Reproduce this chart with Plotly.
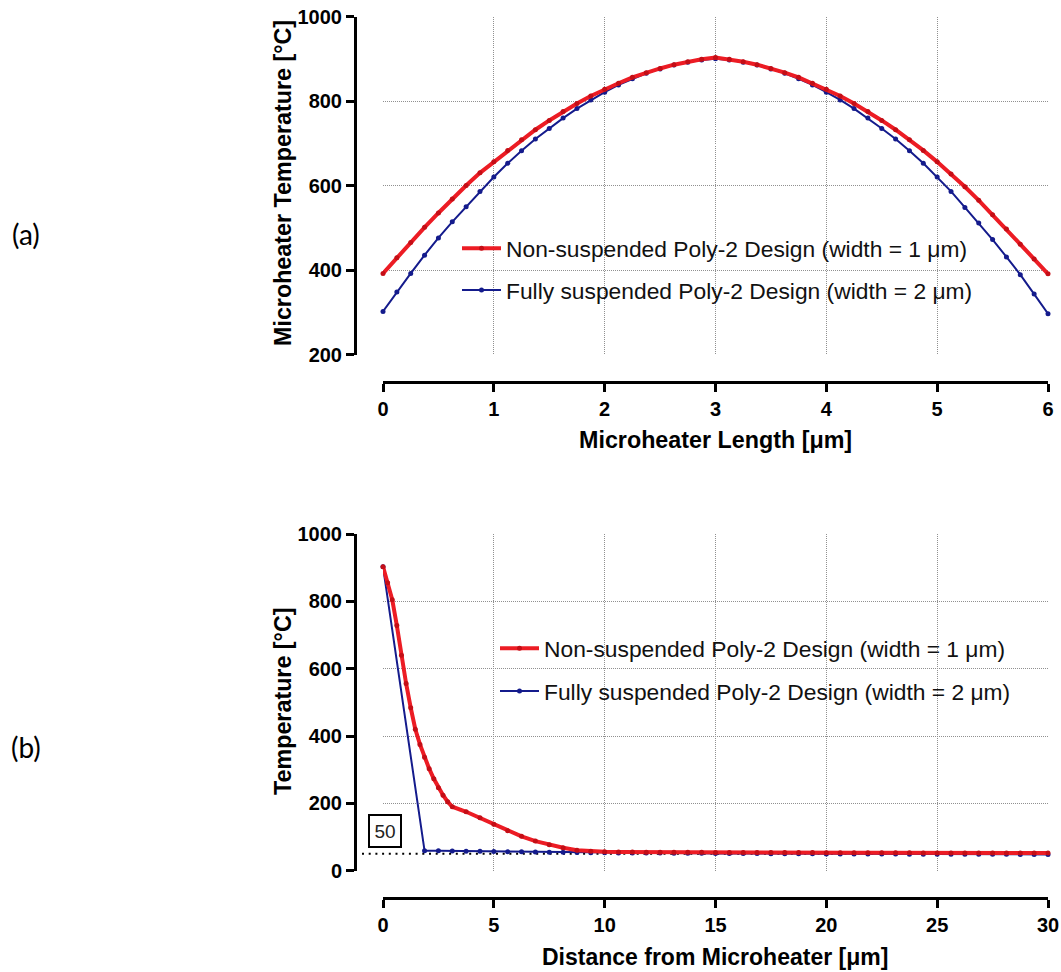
import plotly.graph_objects as go

W, H = 1061, 972

# ---------------- data: (a) temperature along microheater ----------------
len_x = [0, 0.125, 0.25, 0.375, 0.5, 0.625, 0.75, 0.875, 1.0, 1.125, 1.25, 1.375,
         1.5, 1.625, 1.75, 1.875, 2.0, 2.125, 2.25, 2.375, 2.5, 2.625, 2.75, 2.875,
         3.0, 3.125, 3.25, 3.375, 3.5, 3.625, 3.75, 3.875, 4.0, 4.125, 4.25, 4.375,
         4.5, 4.625, 4.75, 4.875, 5.0, 5.125, 5.25, 5.375, 5.5, 5.625, 5.75, 5.875, 6.0]
len_nonsusp = [392, 429, 465, 501, 535, 568, 600, 630, 656, 683, 708, 732,
               754, 775, 794, 812, 828, 842, 856, 867, 877, 886, 893, 899,
               903, 899, 893, 886, 877, 867, 856, 842, 828, 812, 794, 775,
               754, 732, 708, 683, 656, 627, 597, 565, 531, 497, 461, 426, 391]
len_fullsusp = [302, 348, 392, 435, 476, 514, 550, 586, 620, 652.5, 682.5, 710,
                735, 759.5, 782, 802.5, 821, 838, 852.5, 865.5, 876, 885, 892, 897,
                900, 897, 892, 885, 876, 865.5, 852.5, 838, 821, 802.5, 782, 759.5,
                735, 710, 682.5, 652.5, 620, 586, 548, 511, 472, 431, 389, 343, 296.5]

# ---------------- data: (b) temperature vs distance ----------------
dist_x_nonsusp = [0, 0.208, 0.417, 0.625, 0.833, 1.042, 1.25, 1.458, 1.667, 1.875,
                  2.083, 2.292, 2.5, 2.708, 2.917, 3.125,
                  3.75, 4.375, 5.0, 5.625, 6.25, 6.875, 7.5, 8.125, 8.75, 9.375, 10.0,
                  10.625, 11.25, 11.875, 12.5, 13.125, 13.75, 14.375, 15.0, 15.625, 16.25,
                  16.875, 17.5, 18.125, 18.75, 19.375, 20.0, 20.625, 21.25, 21.875, 22.5,
                  23.125, 23.75, 24.375, 25.0, 25.625, 26.25, 26.875, 27.5, 28.125, 28.75,
                  29.375, 30.0]
dist_nonsusp = [903, 855, 805, 728, 640, 556, 484, 420, 375, 337,
                303, 273, 246, 224, 205, 190,
                175, 157, 138, 119, 102, 88, 77, 68, 61, 58, 56,
                55.5, 55.2, 55.0, 54.8, 54.7, 54.6, 54.5, 54.4, 54.3, 54.2,
                54.1, 54.0, 53.9, 53.8, 53.7, 53.6, 53.5, 53.4, 53.3, 53.2,
                53.1, 53.0, 52.9, 52.8, 52.8, 52.7, 52.7, 52.6, 52.6, 52.5,
                52.5, 52.5]
dist_x_fullsusp = [0, 1.875, 2.5, 3.125,
                   3.75, 4.375, 5.0, 5.625, 6.25, 6.875, 7.5, 8.125, 8.75, 9.375, 10.0,
                   10.625, 11.25, 11.875, 12.5, 13.125, 13.75, 14.375, 15.0, 15.625, 16.25,
                   16.875, 17.5, 18.125, 18.75, 19.375, 20.0, 20.625, 21.25, 21.875, 22.5,
                   23.125, 23.75, 24.375, 25.0, 25.625, 26.25, 26.875, 27.5, 28.125, 28.75,
                   29.375, 30.0]
dist_fullsusp = [903, 59, 59, 58.5,
                 58, 57.5, 57, 56.5, 56, 55.5, 55, 54.5, 54, 53.5, 53,
                 52.8, 52.6, 52.4, 52.2, 52.0, 51.8, 51.6, 51.4, 51.2, 51.0,
                 50.8, 50.6, 50.4, 50.2, 50.0, 49.8, 49.7, 49.6, 49.5, 49.4,
                 49.3, 49.2, 49.1, 49.0, 48.9, 48.8, 48.7, 48.6, 48.5, 48.4,
                 48.3, 48.2]

ambient_level = 50
ambient_label = "50"

name_nonsusp = "Non-suspended Poly-2 Design (width = 1 \u03bcm)"
name_fullsusp = "Fully suspended Poly-2 Design (width = 2 \u03bcm)"

RED = "#EC1C24"
RED_M = "#C40E16"
BLUE = "#141B8C"
FONT = "Liberation Sans, Arial, sans-serif"


def px_x(p):
    return p / W


def px_y(p):
    return 1 - p / H


fig = go.Figure()

# top panel (blue first so red sits on top)
fig.add_trace(go.Scatter(x=len_x, y=len_fullsusp, mode="lines+markers", name=name_fullsusp,
                         line=dict(color=BLUE, width=2), marker=dict(color=BLUE, size=5),
                         xaxis="x", yaxis="y", legend="legend", legendgroup="b", legendrank=2,
                         cliponaxis=False))
fig.add_trace(go.Scatter(x=len_x, y=len_nonsusp, mode="lines+markers", name=name_nonsusp,
                         line=dict(color=RED, width=4), marker=dict(color=RED_M, size=5),
                         xaxis="x", yaxis="y", legend="legend", legendgroup="a", legendrank=1,
                         cliponaxis=False))
# bottom panel
fig.add_trace(go.Scatter(x=dist_x_fullsusp, y=dist_fullsusp, mode="lines+markers", name=name_fullsusp,
                         line=dict(color=BLUE, width=2), marker=dict(color=BLUE, size=5),
                         xaxis="x2", yaxis="y2", legend="legend2", legendgroup="d", legendrank=2,
                         cliponaxis=False))
fig.add_trace(go.Scatter(x=dist_x_nonsusp, y=dist_nonsusp, mode="lines+markers", name=name_nonsusp,
                         line=dict(color=RED, width=4), marker=dict(color=RED_M, size=5),
                         xaxis="x2", yaxis="y2", legend="legend2", legendgroup="c", legendrank=1,
                         cliponaxis=False))

axis_common = dict(showline=True, linecolor="black", linewidth=3, ticks="outside",
                   ticklen=8, tickwidth=3, tickcolor="black",
                   tickfont=dict(family=FONT, size=20, color="black", weight="bold"),
                   showgrid=True, gridcolor="#909090", gridwidth=1, griddash="1px,1px",
                   zeroline=False, anchor="free", automargin=False)

xdom = [px_x(383), px_x(1048)]
legend_font = dict(family=FONT, size=22.8, color="#111")
fig.update_layout(
    width=W, height=H, autosize=False,
    margin=dict(l=0, r=0, t=0, b=0, pad=0, autoexpand=False),
    paper_bgcolor="white", plot_bgcolor="rgba(0,0,0,0)",
    xaxis=dict(axis_common, domain=xdom, range=[0, 6], dtick=1, position=px_y(382)),
    yaxis=dict(axis_common, domain=[px_y(354.5), px_y(16.5)], range=[200, 1000], dtick=200,
               position=px_x(355)),
    xaxis2=dict(axis_common, domain=xdom, range=[0, 30], dtick=5, position=px_y(898)),
    yaxis2=dict(axis_common, domain=[px_y(870.7), px_y(534)], range=[0, 1000], dtick=200,
                position=px_x(355)),
    legend=dict(x=px_x(457), y=px_y(227), xanchor="left", yanchor="top",
                bgcolor="rgba(0,0,0,0)", font=legend_font,
                itemwidth=39, tracegroupgap=9),
    legend2=dict(x=px_x(495), y=px_y(627), xanchor="left", yanchor="top",
                 bgcolor="rgba(0,0,0,0)", font=legend_font,
                 itemwidth=39, tracegroupgap=10),
    showlegend=True,
)

# ambient dotted line at 50 °C
fig.add_shape(type="line", xref="paper", yref="y2", x0=px_x(362), x1=px_x(1048),
              y0=ambient_level, y1=ambient_level, layer="below",
              line=dict(color="black", width=2, dash="2px,4.7px"))
fig.add_annotation(x=0.09, y=119, xref="x2", yref="y2", text=ambient_label, showarrow=False,
                   font=dict(family=FONT, size=19, color="#222"), bordercolor="black",
                   borderwidth=2, borderpad=3, bgcolor="white", width=24, height=24)

title_font = dict(family=FONT, size=23.3, color="black", weight="bold")
fig.add_annotation(x=px_x(283), y=px_y(183), xref="paper", yref="paper",
                   text="Microheater Temperature [\u00b0C]", textangle=-90, showarrow=False,
                   font=title_font, xanchor="center", yanchor="middle")
fig.add_annotation(x=px_x(715.5), y=px_y(440), xref="paper", yref="paper",
                   text="Microheater Length [\u03bcm]", showarrow=False,
                   font=title_font, xanchor="center", yanchor="middle")
fig.add_annotation(x=px_x(283), y=px_y(701), xref="paper", yref="paper",
                   text="Temperature [\u00b0C]", textangle=-90, showarrow=False,
                   font=title_font, xanchor="center", yanchor="middle")
fig.add_annotation(x=px_x(714.5), y=px_y(957), xref="paper", yref="paper",
                   text="Distance from Microheater [\u03bcm]", showarrow=False,
                   font=dict(title_font, size=23), xanchor="center", yanchor="middle")

panel_font = dict(family="Lato, Open Sans, sans-serif", size=28, color="black")
fig.add_annotation(x=px_x(26), y=px_y(234), xref="paper", yref="paper", text="(a)",
                   showarrow=False, font=panel_font, xanchor="center", yanchor="middle")
fig.add_annotation(x=px_x(26), y=px_y(747), xref="paper", yref="paper", text="(b)",
                   showarrow=False, font=panel_font, xanchor="center", yanchor="middle")

fig.write_html("out.html")
